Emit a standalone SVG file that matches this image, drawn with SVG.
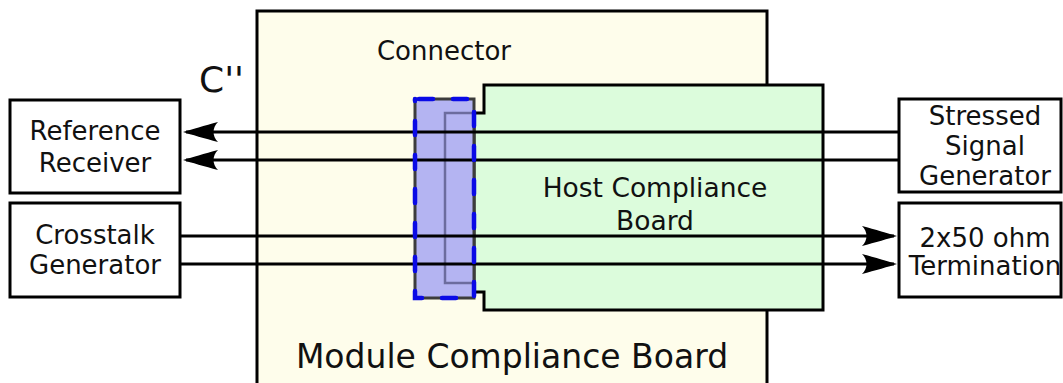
<svg xmlns="http://www.w3.org/2000/svg" width="1063" height="383" viewBox="0 0 1063 383">
<style>
  text { font-family: "DejaVu Sans", "Bitstream Vera Sans", sans-serif; fill: #111; text-anchor: middle; }
  .lbl { font-size: 26px; }
  .box { fill: #ffffff; stroke: #000; stroke-width: 3; }
  .sig { stroke: #000; stroke-width: 3; fill: none; }
</style>
<defs>
  <marker id="ah" markerUnits="userSpaceOnUse" orient="auto" refX="-3" refY="0" markerWidth="40" markerHeight="24" viewBox="-36 -12 40 24" overflow="visible">
    <path d="M0,0 C-8,-2.5 -22,-6.5 -35,-10 C-29,-4 -29,4 -35,10 C-22,6.5 -8,2.5 0,0 Z" fill="#000"/>
  </marker>
</defs>
<rect width="1063" height="383" fill="#ffffff"/>

<g id="module-board">
  <rect x="257" y="11" width="510" height="400" fill="#fefdeb" stroke="#000" stroke-width="3"/>
  <text x="512" y="368" style="font-size:33px">Module Compliance Board</text>
</g>

<g id="host-board">
  <path d="M484,85 H823 V310 H484 V292 H474 V113 H484 Z" fill="#dcfcdc" stroke="#000" stroke-width="3"/>
  <text x="655" y="197" style="font-size:26.5px">Host Compliance</text>
  <text x="655" y="230" style="font-size:26.5px">Board</text>
</g>

<g id="connector">
  <rect x="415" y="99" width="59" height="199" fill="#b4b4f2" stroke="#3c3c3c" stroke-width="3"/>
  <path d="M474,113 H445 V283 H474" fill="none" stroke="#6c6c9e" stroke-width="2.5"/>
  <text class="lbl" x="444" y="60">Connector</text>
</g>

<g id="c-label">
  <text x="199" y="92" style="font-size:36px;text-anchor:start">C''</text>
</g>

<g id="reference-receiver">
  <rect class="box" x="10" y="100" width="170" height="93"/>
  <text class="lbl" x="95" y="140">Reference</text>
  <text class="lbl" x="95" y="172">Receiver</text>
</g>

<g id="crosstalk-generator">
  <rect class="box" x="10" y="203" width="170" height="94"/>
  <text class="lbl" x="95" y="244">Crosstalk</text>
  <text class="lbl" x="95" y="274">Generator</text>
</g>

<g id="stressed-signal-generator">
  <rect class="box" x="899" y="99" width="162" height="93"/>
  <text class="lbl" x="985" y="125">Stressed</text>
  <text class="lbl" x="985" y="155">Signal</text>
  <text class="lbl" x="985" y="185">Generator</text>
</g>

<g id="termination">
  <rect class="box" x="899" y="203" width="162" height="94"/>
  <text class="lbl" x="985" y="247">2x50 ohm</text>
  <text class="lbl" x="985" y="275">Termination</text>
</g>

<g id="connectors">
  <line class="sig" x1="899" y1="132" x2="186" y2="132" marker-end="url(#ah)"/>
  <line class="sig" x1="899" y1="160" x2="186" y2="160" marker-end="url(#ah)"/>
  <line class="sig" x1="180" y1="236" x2="894" y2="236" marker-end="url(#ah)"/>
  <line class="sig" x1="180" y1="264" x2="894" y2="264" marker-end="url(#ah)"/>
</g>

<g id="connector-border">
  <rect x="415" y="99" width="59" height="199" fill="none" stroke="#0a0ae6" stroke-width="4.5" stroke-dasharray="14 20" stroke-dashoffset="-4" stroke-linecap="round"/>
</g>
</svg>
